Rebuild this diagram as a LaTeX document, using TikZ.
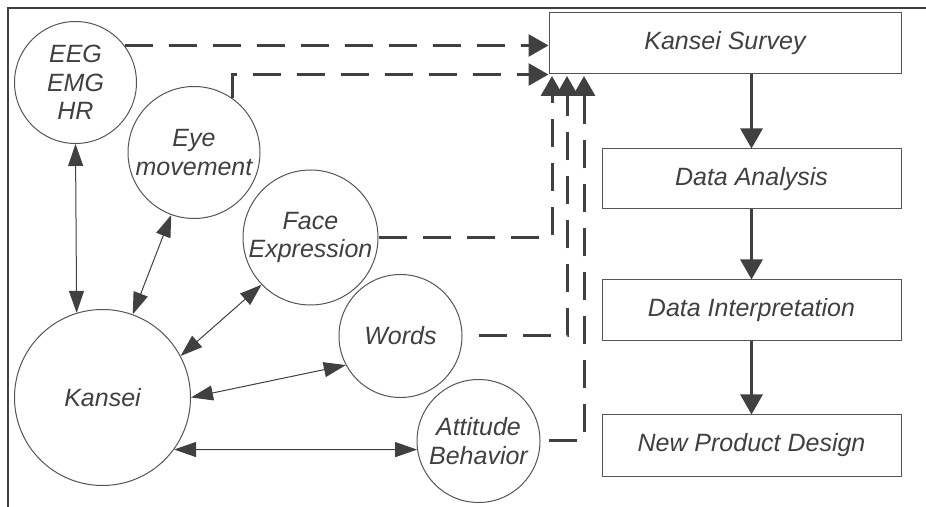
\documentclass[tikz,border=0pt]{standalone}
\usepackage{fontspec}
\setmainfont{Liberation Sans}
\usetikzlibrary{arrows.meta,calc}
\definecolor{ink}{HTML}{404040}
\definecolor{rim}{HTML}{555555}
\tikzset{
bubble/.style={circle,draw=rim,line width=0.5pt,inner sep=0pt,align=center,text=ink,font=\fontsize{12.5}{14.2}\selectfont\itshape},
stage/.style={rectangle,draw=rim,line width=0.5pt,inner sep=0pt,text=ink,font=\fontsize{12.5}{14.2}\selectfont\itshape},
link/.style={draw=ink,line width=0.5pt,{Triangle[length=11pt,width=7.5pt]}-{Triangle[length=11pt,width=7.5pt]}},
feed/.style={draw=ink,line width=1.5pt,dash pattern=on 14pt off 8pt,-{Triangle[length=10pt,width=11pt]}},
flow/.style={draw=ink,line width=1.5pt,-{Triangle[length=10pt,width=11pt]}}
}
\begin{document}
\begin{tikzpicture}[x=0.5pt,y=-0.5pt]
\useasboundingbox (0,0) rectangle (926,507);
\draw[ink,line width=1.2pt] (8,507) -- (8,8) -- (926,8);
\node[bubble,minimum size=61pt] (eeg) at (75.5,82.5) {EEG\\EMG\\HR};
\node[bubble,minimum size=66pt] (eye) at (194,152.5) {Eye\\movement};
\node[bubble,minimum size=67.5pt] (face) at (310.5,237.5) {Face\\Expression};
\node[bubble,minimum size=61.5pt] (words) at (400.5,336) {Words};
\node[bubble,minimum size=61.5pt] (att) at (478.5,441) {Attitude\\Behavior};
\node[bubble,minimum size=88pt] (kansei) at (102.5,397.5) {Kansei};
\node[stage,minimum width=176pt,minimum height=30.5pt] (survey) at (725,43.5) {Kansei Survey};
\node[stage,minimum width=149.5pt,minimum height=30pt] (analysis) at (751.5,179) {Data Analysis};
\node[stage,minimum width=149.5pt,minimum height=30.5pt] (interp) at (751.5,310.5) {Data Interpretation};
\node[stage,minimum width=149.5pt,minimum height=30.5pt] (design) at (751.5,445.5) {New Product Design};
\coordinate (f1) at (552,76);
\coordinate (f2) at (567,76);
\coordinate (f3) at (584,76);
\draw[feed] (eeg.37) -- (eeg.37 -| survey.west);
\draw[feed] (eye.55) |- (survey.south west);
\draw[feed] (face.east) -| (f1);
\draw[feed,shorten <=8pt] (words.east) -| (f2);
\draw[feed,shorten <=4pt] (att.east) -| (f3);
\draw[link] (eeg.south) -- (kansei.107.5);
\draw[link] (eye.250) -- (kansei.70);
\draw[link] (face.224) -- (kansei.28);
\draw[link] (words.208) -- (kansei.east);
\draw[link] (att.188) -- (kansei.-36.6);
\draw[flow] (analysis.north |- survey.south) -- (analysis.north);
\draw[flow] (analysis.south) -- (interp.north);
\draw[flow] (interp.south) -- (design.north);
\end{tikzpicture}
\end{document}
